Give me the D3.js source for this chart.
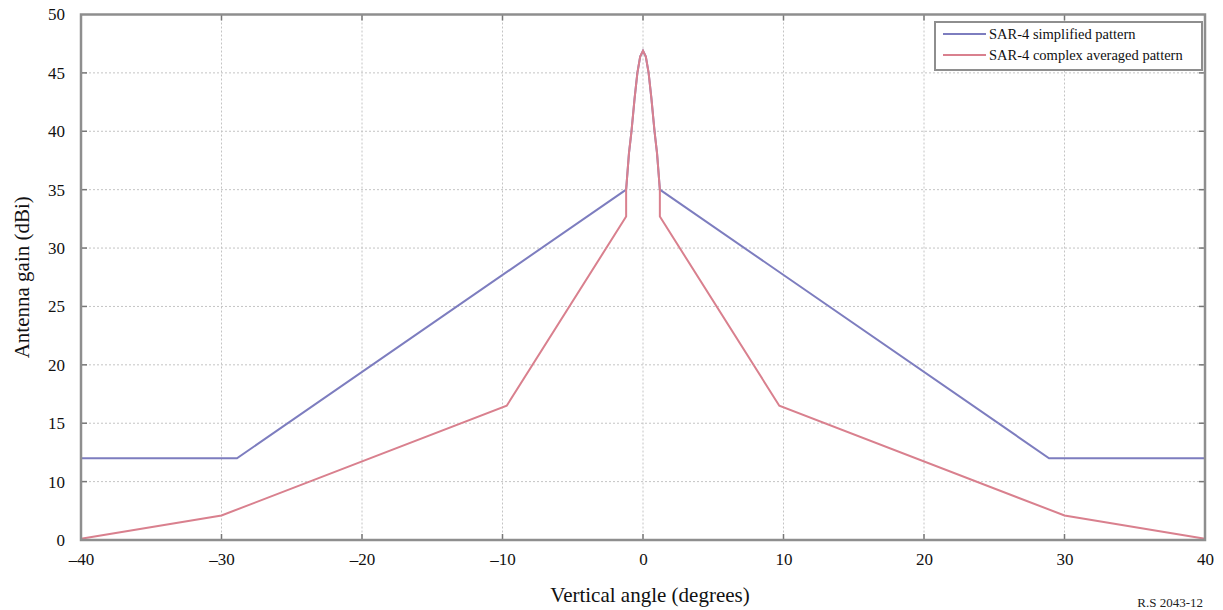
<!DOCTYPE html>
<html>
<head>
<meta charset="utf-8">
<script src="https://cdn.jsdelivr.net/npm/d3@7"></script>
<style>
  body { margin: 0; background: #fff; }
  svg { display: block; font-family: "Liberation Serif", "DejaVu Serif", serif; }
</style>
</head>
<body>
<svg width="1223" height="610"></svg>
<script>
// x ticks (degrees) and y ticks (dBi) -- bottom tick is printed "0" in the source figure
const xTicks = [-40, -30, -20, -10, 0, 10, 20, 30, 40]
const xLabels = ["\u201340", "\u201330", "\u201320", "\u201310", "0", "10", "20", "30", "40"]
const yTicks = [5, 10, 15, 20, 25, 30, 35, 40, 45, 50]
const yLabels = ["0", "10", "15", "20", "25", "30", "35", "40", "45", "50"]

// SAR-4 simplified pattern
const simpleAngle = [-40, -28.9, -1.2, -1.0, -0.82, -0.6, -0.4, -0.2, 0, 0.2, 0.4, 0.6, 0.82, 1.0, 1.2, 28.9, 40]
const simpleGain  = [12, 12, 35, 38.1, 40, 42.8, 45, 46.4, 46.9, 46.4, 45, 42.8, 40, 38.1, 35, 12, 12]

// SAR-4 complex averaged pattern
const complexAngle = [-40, -30, -9.7, -1.2, -1.2, -1.0, -0.82, -0.6, -0.4, -0.2, 0, 0.2, 0.4, 0.6, 0.82, 1.0, 1.2, 1.2, 9.7, 30, 40]
const complexGain  = [5.1, 7.1, 16.5, 32.7, 35, 38.1, 40, 42.8, 45, 46.4, 46.9, 46.4, 45, 42.8, 40, 38.1, 35, 32.7, 16.5, 7.1, 5.1]

const seriesNames = ["SAR-4 simplified pattern", "SAR-4 complex averaged pattern"]
const seriesColors = ["#7d7dbf", "#d9808e"]

const plotL = 81, plotR = 1205, plotT = 14.5, plotB = 540

const svg = d3.select("svg")
const x = d3.scaleLinear().domain([-40, 40]).range([plotL, plotR])
const y = d3.scaleLinear().domain([5, 50]).range([plotB, plotT])

// grid
const grid = svg.append("g")
grid.selectAll(".gx").data(xTicks.slice(1, -1)).enter().append("line")
  .attr("x1", d => x(d)).attr("x2", d => x(d))
  .attr("y1", plotT).attr("y2", plotB)
  .attr("stroke", "#c4c4c4").attr("stroke-dasharray", "2,2")
grid.selectAll(".gy").data(yTicks.slice(1, -1)).enter().append("line")
  .attr("x1", plotL).attr("x2", plotR)
  .attr("y1", d => y(d)).attr("y2", d => y(d))
  .attr("stroke", "#c4c4c4").attr("stroke-dasharray", "2,2")

// inner tick marks on all four sides
const tk = svg.append("g").attr("stroke", "#777").attr("stroke-width", 1.5)
xTicks.slice(1, -1).forEach(d => {
  tk.append("line").attr("x1", x(d)).attr("x2", x(d)).attr("y1", plotB).attr("y2", plotB - 6)
  tk.append("line").attr("x1", x(d)).attr("x2", x(d)).attr("y1", plotT).attr("y2", plotT + 6)
})
yTicks.slice(1, -1).forEach(d => {
  tk.append("line").attr("x1", plotL).attr("x2", plotL + 6).attr("y1", y(d)).attr("y2", y(d))
  tk.append("line").attr("x1", plotR).attr("x2", plotR - 6).attr("y1", y(d)).attr("y2", y(d))
})

// data lines
const line = d3.line().x(d => x(d[0])).y(d => y(d[1]))
const blue = simpleAngle.map((a, i) => [a, simpleGain[i]])
const red = complexAngle.map((a, i) => [a, complexGain[i]])

svg.append("path").attr("d", line(blue))
  .attr("fill", "none").attr("stroke", seriesColors[0]).attr("stroke-width", 2)
svg.append("path").attr("d", line(red))
  .attr("fill", "none").attr("stroke", seriesColors[1]).attr("stroke-width", 2)

// frame
svg.append("rect").attr("x", plotL).attr("y", plotT)
  .attr("width", plotR - plotL).attr("height", plotB - plotT)
  .attr("fill", "none").attr("stroke", "#8e8e8e").attr("stroke-width", 2.5)

// axes (labels only)
const xAxis = d3.axisBottom(x).tickValues(xTicks).tickFormat((d, i) => xLabels[i]).tickSize(0).tickPadding(13)
const yAxis = d3.axisLeft(y).tickValues(yTicks).tickFormat((d, i) => yLabels[i]).tickSize(0).tickPadding(16)

const gx = svg.append("g").attr("transform", `translate(0,${plotB})`).call(xAxis)
const gy = svg.append("g").attr("transform", `translate(${plotL},0)`).call(yAxis)
;[gx, gy].forEach(g => {
  g.select(".domain").remove()
  g.selectAll("text").attr("font-family", "Liberation Serif, serif").attr("font-size", 17).attr("fill", "#111")
})

// titles
svg.append("text").attr("x", 650).attr("y", 602).attr("text-anchor", "middle")
  .attr("font-size", 21).attr("fill", "#111").text("Vertical angle (degrees)")
svg.append("text").attr("transform", `translate(29,${(plotT + plotB) / 2}) rotate(-90)`)
  .attr("text-anchor", "middle").attr("font-size", 21).attr("fill", "#111").text("Antenna gain (dBi)")
svg.append("text").attr("x", 1203).attr("y", 607).attr("text-anchor", "end")
  .attr("font-size", 13).attr("fill", "#222").text("R.S 2043-12")

// legend
const lg = svg.append("g")
lg.append("rect").attr("x", 935).attr("y", 22).attr("width", 267).attr("height", 48)
  .attr("fill", "#fff").attr("stroke", "#8e8e8e").attr("stroke-width", 2)
seriesNames.forEach((n, i) => {
  const ly = 34 + i * 21
  lg.append("line").attr("x1", 943).attr("x2", 986).attr("y1", ly).attr("y2", ly)
    .attr("stroke", seriesColors[i]).attr("stroke-width", 2)
  lg.append("text").attr("x", 989).attr("y", ly + 5).attr("font-size", 14.5)
    .attr("fill", "#111").text(n)
})
</script>
</body>
</html>
